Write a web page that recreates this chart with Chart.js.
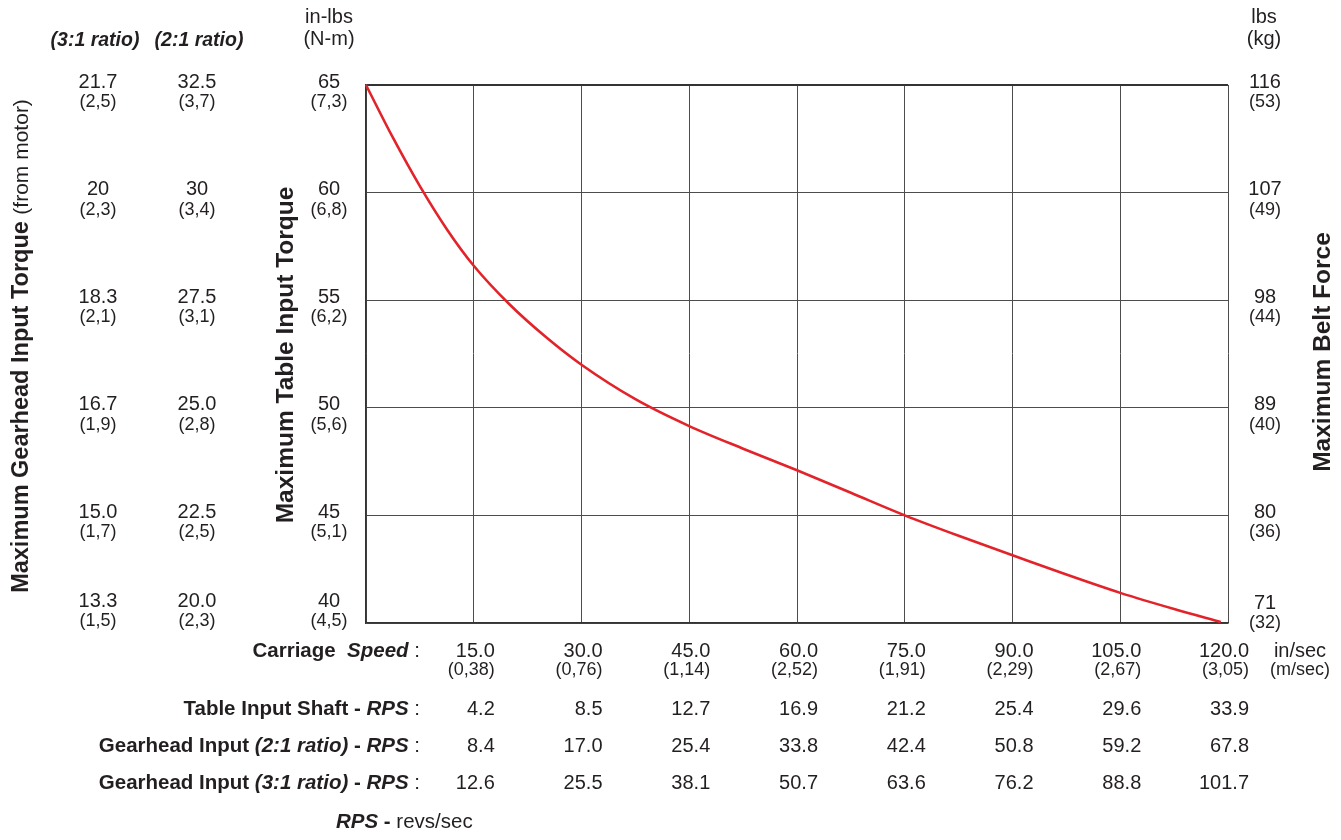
<!DOCTYPE html>
<html>
<head>
<meta charset="utf-8">
<script src="https://cdn.jsdelivr.net/npm/chart.js@4/dist/chart.umd.min.js"></script>
<style>
  html, body { margin: 0; padding: 0; background: #fff; }
  #wrap { width: 1341px; height: 840px; }
</style>
</head>
<body>
<div id="wrap"><canvas id="grafica" width="1341" height="840"></canvas></div>
<script>
// carriage speed (in/sec) and max table input torque (in-lbs)
const speed  = [0, 3.75, 7.5, 11.25, 15, 20, 25, 30, 37.5, 45, 52.5, 60, 67.5, 75, 82.5, 90, 97.5, 105, 112.5, 119];
const torque = [65, 62.55, 60.3, 58.3, 56.6, 54.8, 53.3, 52.0, 50.4, 49.15, 48.1, 47.1, 46.05, 45.0, 44.05, 43.15, 42.25, 41.4, 40.65, 40.05];

// x axis ticks
const speedTicks   = [15, 30, 45, 60, 75, 90, 105, 120];
const speedLabels  = ['15.0', '30.0', '45.0', '60.0', '75.0', '90.0', '105.0', '120.0'];
const speedMetric  = ['(0,38)', '(0,76)', '(1,14)', '(2,52)', '(1,91)', '(2,29)', '(2,67)', '(3,05)'];
const tableRPS     = ['4.2', '8.5', '12.7', '16.9', '21.2', '25.4', '29.6', '33.9'];
const gear21RPS    = ['8.4', '17.0', '25.4', '33.8', '42.4', '50.8', '59.2', '67.8'];
const gear31RPS    = ['12.6', '25.5', '38.1', '50.7', '63.6', '76.2', '88.8', '101.7'];

// y axis ticks (table input torque) and the equivalent columns
const torqueTicks   = [65, 60, 55, 50, 45, 40];
const torqueMetric  = ['(7,3)', '(6,8)', '(6,2)', '(5,6)', '(5,1)', '(4,5)'];
const gear31Torque  = ['21.7', '20', '18.3', '16.7', '15.0', '13.3'];
const gear31Metric  = ['(2,5)', '(2,3)', '(2,1)', '(1,9)', '(1,7)', '(1,5)'];
const gear21Torque  = ['32.5', '30', '27.5', '25.0', '22.5', '20.0'];
const gear21Metric  = ['(3,7)', '(3,4)', '(3,1)', '(2,8)', '(2,5)', '(2,3)'];
const beltForce     = ['116', '107', '98', '89', '80', '71'];
const beltMetric    = ['(53)', '(49)', '(44)', '(40)', '(36)', '(32)'];

const FAM = '"Liberation Sans", Arial, Helvetica, sans-serif';
const fN  = s => s + 'px ' + FAM;
const fB  = s => 'bold ' + s + 'px ' + FAM;
const fBI = s => 'italic bold ' + s + 'px ' + FAM;

// texto con varios estilos en una linea
function textoRico(ctx, segs, x, y, align) {
    let total = 0;
    segs.forEach(s => { ctx.font = s[1]; total += ctx.measureText(s[0]).width; });
    let cx = align === 'right' ? x - total : align === 'center' ? x - total / 2 : x;
    ctx.textAlign = 'left';
    ctx.textBaseline = 'middle';
    segs.forEach(s => {
        ctx.font = s[1];
        ctx.fillText(s[0], cx, y);
        cx += ctx.measureText(s[0]).width;
    });
}

function texto(ctx, t, font, x, y, align) {
    ctx.font = font;
    ctx.textAlign = align || 'center';
    ctx.textBaseline = 'middle';
    ctx.fillText(t, x, y);
}

function textoVertical(ctx, segs, x, y) {
    ctx.save();
    ctx.translate(x, y);
    ctx.rotate(-Math.PI / 2);
    textoRico(ctx, segs, 0, 0, 'center');
    ctx.restore();
}

const etiquetas = {
    id: 'etiquetas',
    afterDraw(chart) {
        const ctx = chart.ctx;
        const xs = chart.scales.x, ys = chart.scales.y;
        ctx.save();
        ctx.fillStyle = '#231f20';

        // headers
        texto(ctx, '(3:1 ratio)', fBI(19.5), 95, 41);
        texto(ctx, '(2:1 ratio)', fBI(19.5), 199, 41);
        texto(ctx, 'in-lbs', fN(20), 329, 17);
        texto(ctx, '(N-m)', fN(20), 329, 39);
        texto(ctx, 'lbs', fN(20), 1264, 17);
        texto(ctx, '(kg)', fN(20), 1264, 39);

        // y columns
        torqueTicks.forEach((v, i) => {
            const py = ys.getPixelForValue(v);
            const y1 = i === torqueTicks.length - 1 ? py - 22 : py - 3;
            const y2 = y1 + 20;
            texto(ctx, gear31Torque[i], fN(20), 98, y1);
            texto(ctx, gear31Metric[i], fN(18), 98, y2);
            texto(ctx, gear21Torque[i], fN(20), 197, y1);
            texto(ctx, gear21Metric[i], fN(18), 197, y2);
            texto(ctx, String(v), fN(20), 329, y1);
            texto(ctx, torqueMetric[i], fN(18), 329, y2);
            const r1 = i === torqueTicks.length - 1 ? py - 20 : py - 3;
            texto(ctx, beltForce[i], fN(20), 1265, r1);
            texto(ctx, beltMetric[i], fN(18), 1265, r1 + 20);
        });

        // axis titles
        textoVertical(ctx, [['Maximum Gearhead Input Torque ', fB(23.5)], ['(from motor)', fN(21)]], 22, 346);
        textoVertical(ctx, [['Maximum Table Input Torque', fB(24.5)]], 286, 355);
        textoVertical(ctx, [['Maximum Belt Force', fB(24.5)]], 1323, 352);

        // x labels
        textoRico(ctx, [['Carriage  ', fB(20.5)], ['Speed', fBI(20.5)], [' :', fN(20.5)]], 420, 651, 'right');
        speedTicks.forEach((v, i) => {
            const px = xs.getPixelForValue(v) + 21;
            texto(ctx, speedLabels[i], fN(20), px, 651, 'right');
            texto(ctx, speedMetric[i], fN(18), px, 670, 'right');
            texto(ctx, tableRPS[i], fN(20), px, 709, 'right');
            texto(ctx, gear21RPS[i], fN(20), px, 746, 'right');
            texto(ctx, gear31RPS[i], fN(20), px, 783, 'right');
        });
        texto(ctx, 'in/sec', fN(20), 1300, 651);
        texto(ctx, '(m/sec)', fN(18), 1300, 670);

        textoRico(ctx, [['Table Input Shaft - ', fB(20.5)], ['RPS', fBI(20.5)], [' :', fN(20.5)]], 420, 709, 'right');
        textoRico(ctx, [['Gearhead Input ', fB(20.5)], ['(2:1 ratio)', fBI(20.5)], [' - ', fB(20.5)], ['RPS', fBI(20.5)], [' :', fN(20.5)]], 420, 746, 'right');
        textoRico(ctx, [['Gearhead Input ', fB(20.5)], ['(3:1 ratio)', fBI(20.5)], [' - ', fB(20.5)], ['RPS', fBI(20.5)], [' :', fN(20.5)]], 420, 783, 'right');
        textoRico(ctx, [['RPS', fBI(20.5)], [' - ', fB(20.5)], ['revs/sec', fN(20.5)]], 336, 822, 'left');

        ctx.restore();
    }
};

const ctx = document.getElementById('grafica').getContext('2d');
new Chart(ctx, {
    type: 'line',
    data: {
        datasets: [{
            data: speed.map((s, i) => ({ x: s, y: torque[i] })),
            borderColor: '#e3232a',
            borderWidth: 2.6,
            pointRadius: 0,
            fill: false,
            cubicInterpolationMode: 'monotone',
            clip: false
        }]
    },
    options: {
        responsive: false,
        animation: false,
        layout: { padding: { left: 366, right: 113, top: 85, bottom: 217 } },
        plugins: { legend: { display: false }, tooltip: { enabled: false } },
        scales: {
            x: {
                type: 'linear', min: 0, max: 120,
                afterFit: s => { s.height = 0; },
                ticks: { display: false, stepSize: 15 },
                grid: { color: '#4d4d4d', lineWidth: 1, drawTicks: false },
                border: { color: '#333', width: 1.5 }
            },
            y: {
                min: 40, max: 65,
                afterFit: s => { s.width = 0; },
                ticks: { display: false, stepSize: 5 },
                grid: { color: ctx => ctx.tick && ctx.tick.value === 65 ? '#333' : '#4d4d4d', lineWidth: ctx => ctx.tick && ctx.tick.value === 65 ? 2 : 1, drawTicks: false },
                border: { color: '#333', width: 1.5 }
            }
        }
    },
    plugins: [etiquetas]
});
</script>
</body>
</html>
